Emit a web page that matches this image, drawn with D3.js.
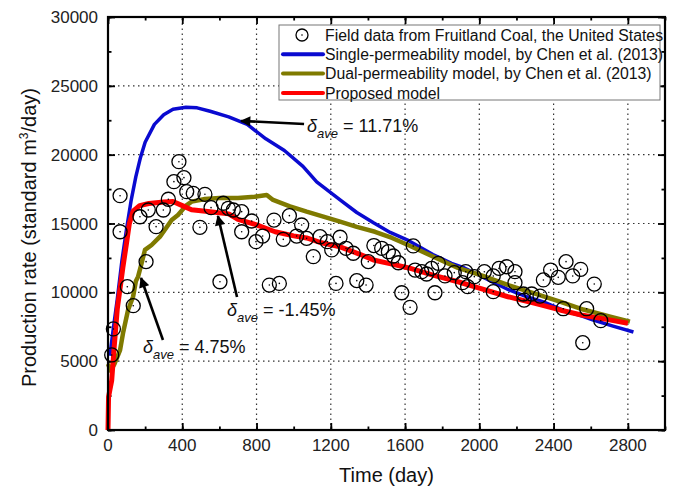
<!DOCTYPE html>
<html><head><meta charset="utf-8">
<script src="https://cdn.jsdelivr.net/npm/d3@7"></script>
<style>
html,body{margin:0;padding:0;background:#fff;}
svg{display:block;font-family:"Liberation Sans",Arial,sans-serif;}
</style></head>
<body><svg id="chart" width="675" height="496"></svg>
<script>
// ---- data ----
const fieldData = [[20,5450],[29,7340],[65,14400],[65,17020],[104,10410],[136,9030],[172,15490],[205,12230],[217,15980],[259,14770],[298,15980],[325,16760],[355,18040],[382,19490],[409,18330],[424,17310],[459,17190],[495,14720],[522,17120],[555,16150],[603,10770],[621,16470],[648,16100],[675,15980],[720,15860],[720,14400],[774,15180],[797,13680],[833,14090],[869,10530],[894,15250],[923,10650],[944,13850],[977,15570],[1016,14090],[1043,14890],[1070,13920],[1106,12590],[1142,14040],[1181,13680],[1205,13080],[1228,10650],[1250,14000],[1282,13200],[1321,12840],[1340,10850],[1390,10530],[1402,12230],[1432,13400],[1474,13200],[1510,12950],[1537,12640],[1564,12150],[1582,9970],[1627,8910],[1644,13370],[1654,11620],[1690,11500],[1716,11330],[1743,11740],[1761,9970],[1779,12110],[1815,11190],[1865,11430],[1909,10700],[1927,11500],[1937,10410],[1973,11140],[2027,11500],[2075,11190],[2075,10050],[2106,11740],[2147,11860],[2192,11500],[2192,10700],[2237,9880],[2241,9440],[2282,9880],[2327,9730],[2345,10900],[2384,11620],[2425,11090],[2452,8810],[2467,12230],[2503,11190],[2546,11670],[2557,6340],[2578,8810],[2619,10600],[2654,7940]];

const singlePerm = [[10,5400],[30,7500],[50,9500],[75,12300],[100,14600],[125,16700],[150,18400],[175,19800],[200,20900],[250,22200],[300,22900],[350,23300],[420,23450],[480,23400],[550,23150],[650,22750],[750,22200],[850,21150],[950,20300],[1050,19150],[1124,18020],[1250,16710],[1340,15800],[1430,15050],[1520,14350],[1620,13750],[1750,12750],[1850,12100],[1920,11770],[2050,10900],[2160,10170],[2250,9700],[2345,9300],[2450,8700],[2550,8300],[2614,7990],[2720,7550],[2830,7120]];

const dualPerm = [[0,4800],[15,4300],[35,4800],[65,5800],[81,7040],[108,8720],[135,9680],[150,10800],[162,11140],[181,12110],[199,13080],[235,13440],[280,14040],[343,15250],[377,15620],[420,16300],[451,16590],[522,16780],[600,16850],[700,16850],[790,16950],[855,17070],[889,16710],[980,16250],[1070,15860],[1160,15500],[1250,15130],[1340,14750],[1438,14400],[1530,13950],[1616,13440],[1750,12600],[1885,11770],[2020,11200],[2160,10500],[2300,9900],[2434,9320],[2560,8750],[2700,8250],[2811,7870]];

const proposed = [[0,0],[3,2400],[10,2900],[20,3600],[32,5800],[50,8800],[80,11800],[100,13600],[115,15000],[135,15900],[170,16300],[220,16450],[300,16560],[350,16600],[400,16300],[450,16000],[550,15850],[650,15700],[700,15300],[800,14900],[900,14400],[1000,14100],[1070,13950],[1150,13600],[1250,13300],[1350,12800],[1430,12350],[1530,12050],[1620,11770],[1750,11250],[1885,10770],[2000,10300],[2154,9680],[2300,9200],[2434,8720],[2550,8350],[2700,8000],[2800,7750]];

const xTicks = [0,400,800,1200,1600,2000,2400,2800];
const yTicks = [0,5000,10000,15000,20000,25000,30000];
const legendLabels = ["Field data from Fruitland Coal, the United States","Single-permeability model, by Chen et al. (2013)","Dual-permeability model, by Chen et al. (2013)","Proposed model"];
const seriesColors = ["#000000","#0a0ad0","#7f7a00","#ff0000"];
// annotations: [label value, text x, text y, arrow tail x, tail y, tip x, tip y] in data units
const annotations = [["11.71%",1072,21650,1056,22230,716,22450],["-1.45%",641,8280,695,9660,592,15540],["4.75%",189,5590,296,6540,178,11040]];

// ---- chart ----
const svg = d3.select("#chart");
const L=108,R=665,T=17,B=430;
const x = d3.scaleLinear().domain([0,3000]).range([L,R]);
const y = d3.scaleLinear().domain([0,30000]).range([B,T]);

// grid
const grid = svg.append("g").attr("stroke","#333").attr("stroke-width",1.2).attr("stroke-dasharray","1.5,3.5");
xTicks.filter(d=>d>0).forEach(d=>grid.append("line").attr("x1",x(d)).attr("x2",x(d)).attr("y1",B).attr("y2",T));
yTicks.filter(d=>d>0&&d<30000).forEach(d=>grid.append("line").attr("x1",L).attr("x2",R).attr("y1",y(d)).attr("y2",y(d)));

// axes with inward ticks
const minorX = d3.range(0,3001,200), minorY = d3.range(0,30001,2500);
const axG = svg.append("g");
axG.append("g").attr("transform",`translate(0,${B})`).call(d3.axisTop(x).tickValues(minorX).tickSize(3.5).tickFormat("")).call(g=>g.select(".domain").remove());
axG.append("g").attr("transform",`translate(0,${B})`).call(d3.axisTop(x).tickValues(xTicks).tickSize(7).tickFormat("")).call(g=>g.select(".domain").remove());
axG.append("g").attr("transform",`translate(0,${T})`).call(d3.axisBottom(x).tickValues(minorX).tickSize(3.5).tickFormat("")).call(g=>g.select(".domain").remove());
axG.append("g").attr("transform",`translate(0,${T})`).call(d3.axisBottom(x).tickValues(xTicks).tickSize(7).tickFormat("")).call(g=>g.select(".domain").remove());
axG.append("g").attr("transform",`translate(${L},0)`).call(d3.axisRight(y).tickValues(minorY).tickSize(3.5).tickFormat("")).call(g=>g.select(".domain").remove());
axG.append("g").attr("transform",`translate(${L},0)`).call(d3.axisRight(y).tickValues(yTicks).tickSize(7).tickFormat("")).call(g=>g.select(".domain").remove());
axG.append("g").attr("transform",`translate(${R},0)`).call(d3.axisLeft(y).tickValues(minorY).tickSize(3.5).tickFormat("")).call(g=>g.select(".domain").remove());
axG.append("g").attr("transform",`translate(${R},0)`).call(d3.axisLeft(y).tickValues(yTicks).tickSize(7).tickFormat("")).call(g=>g.select(".domain").remove());
axG.selectAll(".tick line").attr("stroke","#000").attr("stroke-width",1.8);

// tick labels
svg.append("g").selectAll("text").data(xTicks).join("text")
  .attr("x",d=>x(d)).attr("y",B+21).attr("text-anchor","middle").attr("font-size",17).attr("fill","#222").text(d=>d);
svg.append("g").selectAll("text").data(yTicks).join("text")
  .attr("x",L-10).attr("y",d=>y(d)+6).attr("text-anchor","end").attr("font-size",17).attr("fill","#222").text(d=>d);

// axis titles
svg.append("text").attr("x",(L+R)/2).attr("y",482).attr("text-anchor","middle").attr("font-size",20).attr("fill","#111").text("Time (day)");
const yt = svg.append("text").attr("transform",`translate(36,${(T+B)/2+14}) rotate(-90)`).attr("text-anchor","middle").attr("font-size",20).attr("fill","#111");
yt.append("tspan").text("Production rate (standard m");
yt.append("tspan").attr("font-size",12).attr("dy",-8).text("3");
yt.append("tspan").attr("dy",8).text("/day)");

// lines
const line = d3.line().x(d=>x(d[0])).y(d=>y(d[1])).curve(d3.curveLinear);
const plot = svg.append("g");
plot.append("path").datum(singlePerm).attr("d",line).attr("fill","none").attr("stroke",seriesColors[1]).attr("stroke-width",3.5).attr("stroke-linejoin","round");
plot.append("path").datum(dualPerm).attr("d",line).attr("fill","none").attr("stroke",seriesColors[2]).attr("stroke-width",4.5).attr("stroke-linejoin","round");
plot.append("path").datum(proposed).attr("d",line).attr("fill","none").attr("stroke",seriesColors[3]).attr("stroke-width",5).attr("stroke-linejoin","round");

// field points
const pts = plot.append("g").selectAll("g").data(fieldData).join("g").attr("transform",d=>`translate(${x(d[0])},${y(d[1])})`);
pts.append("circle").attr("r",7).attr("fill","none").attr("stroke","#000").attr("stroke-width",1.3);
pts.append("circle").attr("r",0.8).attr("fill","#000");

// frame
svg.append("rect").attr("x",L).attr("y",T).attr("width",R-L).attr("height",B-T).attr("fill","none").attr("stroke","#000").attr("stroke-width",2.2);

// annotations
svg.append("defs").append("marker").attr("id","arr").attr("viewBox","0 0 10 10").attr("refX",9).attr("refY",5)
  .attr("markerWidth",5).attr("markerHeight",4).attr("orient","auto").attr("markerUnits","strokeWidth")
  .append("path").attr("d","M0,0L10,5L0,10z").attr("fill","#000");
annotations.forEach(a=>{
  svg.append("line").attr("x1",x(a[3])).attr("y1",y(a[4])).attr("x2",x(a[5])).attr("y2",y(a[6]))
    .attr("stroke","#000").attr("stroke-width",2.6).attr("marker-end","url(#arr)");
  const t = svg.append("text").attr("x",x(a[1])).attr("y",y(a[2])).attr("font-size",18).attr("fill","#111");
  t.append("tspan").attr("font-style","italic").text("δ");
  t.append("tspan").attr("font-style","italic").attr("font-size",13).attr("dy",6).text("ave");
  t.append("tspan").attr("dy",-6).text(" = "+a[0]);
});

// legend
const lg = svg.append("g");
lg.append("rect").attr("x",279).attr("y",25).attr("width",381).attr("height",75).attr("fill","#fff").attr("stroke","#777").attr("stroke-width",1);
legendLabels.forEach((lab,i)=>{
  const cy = 35+i*19.3;
  if(i===0){
    lg.append("circle").attr("cx",302).attr("cy",cy).attr("r",6).attr("fill","none").attr("stroke","#000").attr("stroke-width",1.3);
    lg.append("circle").attr("cx",302).attr("cy",cy).attr("r",0.8).attr("fill","#000");
  } else {
    lg.append("line").attr("x1",283).attr("x2",323).attr("y1",cy).attr("y2",cy).attr("stroke",seriesColors[i]).attr("stroke-width",4).attr("stroke-linecap","round");
  }
  lg.append("text").attr("x",325).attr("y",cy+5.7).attr("font-size",15.8).attr("fill","#111").text(lab);
});
</script></body></html>
